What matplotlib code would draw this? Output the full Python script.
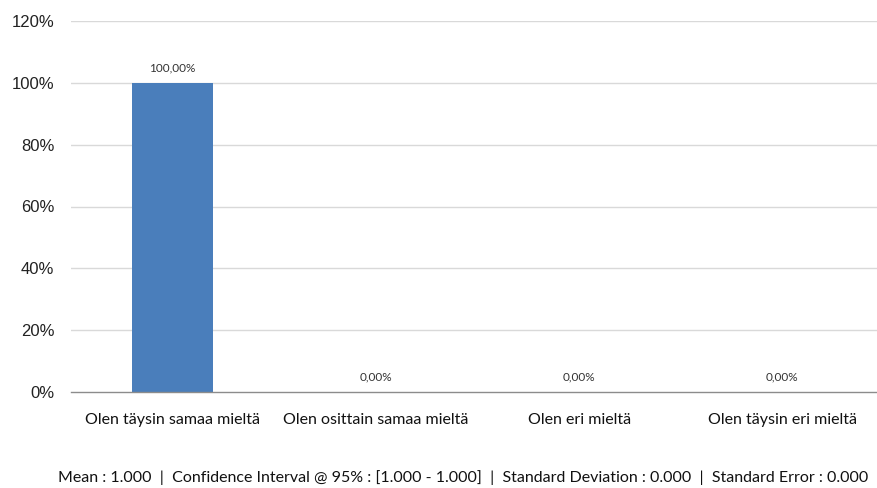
import matplotlib
matplotlib.use("Agg")
import matplotlib.pyplot as plt
import numpy as np

categories = ["Olen täysin samaa mieltä", "Olen osittain samaa mieltä",
              "Olen eri mieltä", "Olen täysin eri mieltä"]
shares = [100.0, 0.0, 0.0, 0.0]
y_ticks = [0, 20, 40, 60, 80, 100, 120]
stats_line = ("Mean : 1.000  |  Confidence Interval @ 95% : [1.000 - 1.000]  |  "
              "Standard Deviation : 0.000  |  Standard Error : 0.000")

fig = plt.figure(figsize=(8.77, 4.88), dpi=100)
ax = fig.add_axes([71 / 877, 1 - 392 / 488, 813 / 877, (392 - 21) / 488])

x = np.arange(len(categories))
ax.bar(x, shares, width=0.4, color="#4a7ebb", zorder=3)

for xi, v in zip(x, shares):
    ax.annotate(f"{v:.2f}%".replace(".", ","), (xi, v), xytext=(0, 7),
                textcoords="offset points", ha="center", va="bottom",
                fontsize=8.5, family="Lato", color="#333333")

ax.set_xlim(-0.5, len(categories) - 0.5)
ax.set_ylim(0, 120)
ax.set_yticks(y_ticks)
ax.set_yticklabels([f"{t}%" for t in y_ticks], fontsize=12,
                   family="Liberation Sans", color="#222222")
ax.set_xticks(x)
ax.set_xticklabels(categories, fontsize=11.5, family="Lato", color="#111111")
ax.tick_params(axis="y", length=0, pad=12)
ax.tick_params(axis="x", length=0, pad=15)

for t in y_ticks[1:]:
    ax.axhline(t, color="#d9d9d9", lw=1.0, zorder=1)
for s in ["top", "right", "left"]:
    ax.spines[s].set_visible(False)
ax.spines["bottom"].set_color("#8c8c8c")
ax.spines["bottom"].set_linewidth(1.0)
ax.spines["bottom"].set_zorder(4)

fig.text(463 / 877, 1 - 478 / 488, stats_line, ha="center", va="center",
         fontsize=11.5, family="Lato", color="#111111")

fig.savefig("out.png", dpi=100)
